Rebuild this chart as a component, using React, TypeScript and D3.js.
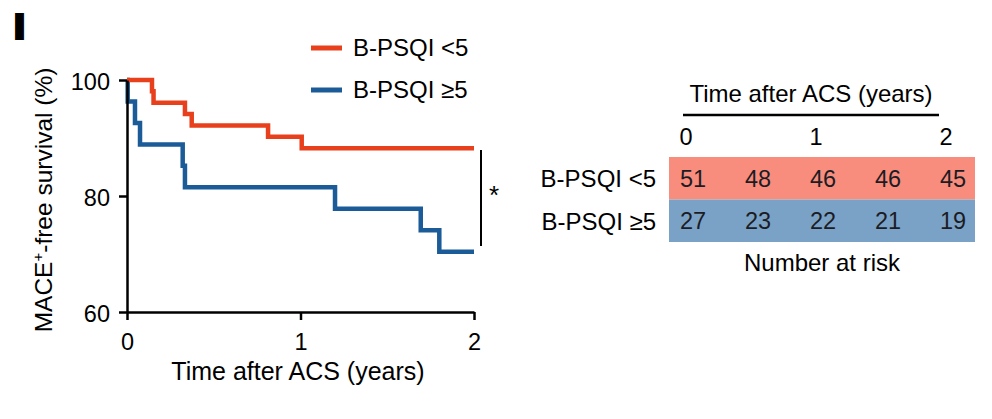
import { useEffect, useRef } from 'react';
import * as d3 from 'd3';

// Kaplan-Meier curves (time in years, survival in %)
const redTimes = [0, 0.144, 0.153, 0.334, 0.373, 0.813, 1.007, 2];
const redSurv = [100, 98.04, 96.08, 94.12, 92.16, 90.2, 88.24, 88.24];
const blueTimes = [0, 0.004, 0.046, 0.075, 0.321, 0.334, 1.199, 1.693, 1.8, 2];
const blueSurv = [100, 96.3, 92.6, 88.9, 85.2, 81.5, 77.8, 74.1, 70.4, 70.4];

const groups = ['B-PSQI <5', 'B-PSQI \u22655'];
const riskColumns = ['0', '0.5', '1', '1.5', '2'];
const riskRed = [51, 48, 46, 46, 45];
const riskBlue = [27, 23, 22, 21, 19];
const riskTickLabels = ['0', '1', '2'];
const xTicks = [0, 1, 2];
const yTicks = [60, 80, 100];

const RED = '#e8401c';
const BLUE = '#1b5b97';
const RED_ROW = '#f98d7d';
const BLUE_ROW = '#7aa2c6';
const FONT = 'Liberation Sans, Arial, Helvetica, sans-serif';

const App = () => {
  const xAxisRef = useRef<SVGGElement>(null);
  const yAxisRef = useRef<SVGGElement>(null);

  const x = d3.scaleLinear().domain([0, 2]).range([127, 474]);
  const y = d3.scaleLinear().domain([60, 100]).range([312, 80]);

  const line = d3
    .line<[number, number]>()
    .x((d) => x(d[0]))
    .y((d) => y(d[1]))
    .curve(d3.curveStepAfter);

  const redPts = redTimes.map((t, i) => [t, redSurv[i]] as [number, number]);
  const bluePts = blueTimes.map((t, i) => [t, blueSurv[i]] as [number, number]);

  // risk table columns
  const col = d3.scalePoint<string>().domain(riskColumns).range([693, 953]);
  const rowY = d3.scaleBand<string>().domain(groups).range([157, 242]);

  useEffect(() => {
    if (!xAxisRef.current || !yAxisRef.current) return;
    const gx = d3.select(xAxisRef.current);
    const gy = d3.select(yAxisRef.current);

    gx.call(
      d3
        .axisBottom(x)
        .tickValues(xTicks)
        .tickFormat(d3.format('d'))
        .tickSize(8)
        .tickSizeOuter(0)
        .tickPadding(13)
    );
    gy.call(
      d3
        .axisLeft(y)
        .tickValues(yTicks)
        .tickFormat(d3.format('d'))
        .tickSize(8)
        .tickSizeOuter(0)
        .tickPadding(9)
    );

    [gx, gy].forEach((g) => {
      g.attr('font-family', FONT).attr('font-size', 23.5);
      g.select('.domain').attr('stroke', '#000').attr('stroke-width', 2.5);
      g.selectAll('.tick line').attr('stroke', '#000').attr('stroke-width', 2.5);
      g.selectAll('.tick text').attr('fill', '#000');
    });
    gy.selectAll('.tick text').attr('dy', '0.42em');
  }, []);

  return (
    <svg
      width={992}
      height={419}
      style={{ position: 'absolute', left: 0, top: 0, background: '#fff' }}
      fontFamily={FONT}
    >
      {/* panel letter */}
      <text
        x={19.5}
        y={38}
        fontSize={34}
        fontWeight='bold'
        textAnchor='middle'
        stroke='#000'
        strokeWidth={4}
      >
        I
      </text>

      {/* legend */}
      {groups.map((g, i) => {
        const ly = i === 0 ? 48 : 90;
        return (
          <g key={g}>
            <line
              x1={311}
              x2={342}
              y1={ly}
              y2={ly}
              stroke={i === 0 ? RED : BLUE}
              strokeWidth={5}
            />
            <text x={353} y={ly + 8} fontSize={24}>
              {g}
            </text>
          </g>
        );
      })}

      {/* curves */}
      <path d={line(bluePts) || ''} fill='none' stroke={BLUE} strokeWidth={4.5} />
      <path d={line(redPts) || ''} fill='none' stroke={RED} strokeWidth={4.5} />

      <g ref={xAxisRef} transform={`translate(0,${y(60)})`} />
      <g ref={yAxisRef} transform={`translate(${x(0)},0)`} />

      {/* axis titles */}
      <text x={298} y={380} fontSize={25} textAnchor='middle'>
        Time after ACS (years)
      </text>
      <text transform='translate(52,200) rotate(-90)' fontSize={24.5} textAnchor='middle'>
        MACE
        <tspan dy={-9} fontSize={15}>
          +
        </tspan>
        <tspan dy={9}>-free survival (%)</tspan>
      </text>

      {/* significance bracket */}
      <line x1={481} x2={481} y1={150} y2={246} stroke='#000' strokeWidth={2} />
      <text x={489} y={204} fontSize={26}>
        *
      </text>

      {/* number at risk table */}
      <text x={811} y={102} fontSize={24} textAnchor='middle'>
        Time after ACS (years)
      </text>
      <line x1={683} x2={939} y1={115} y2={115} stroke='#000' strokeWidth={2.5} />
      {riskTickLabels.map((t) => (
        <text key={t} x={(col(t) || 0) - 7} y={145} fontSize={23.5} textAnchor='middle'>
          {t}
        </text>
      ))}
      {groups.map((g, i) => {
        const vals = i === 0 ? riskRed : riskBlue;
        const top = rowY(g) || 0;
        const h = rowY.bandwidth();
        return (
          <g key={g}>
            <rect x={669} y={top} width={306} height={h} fill={i === 0 ? RED_ROW : BLUE_ROW} />
            <text x={656} y={top + h / 2 + 9} fontSize={24} textAnchor='end'>
              {g}
            </text>
            {vals.map((v, j) => (
              <text
                key={j}
                x={col(riskColumns[j])}
                y={top + h / 2 + 8.5}
                fontSize={23.5}
                textAnchor='middle'
                fill='#1c1c24'
              >
                {v}
              </text>
            ))}
          </g>
        );
      })}
      <text x={822} y={271} fontSize={24} textAnchor='middle'>
        Number at risk
      </text>
    </svg>
  );
};

export default App;
